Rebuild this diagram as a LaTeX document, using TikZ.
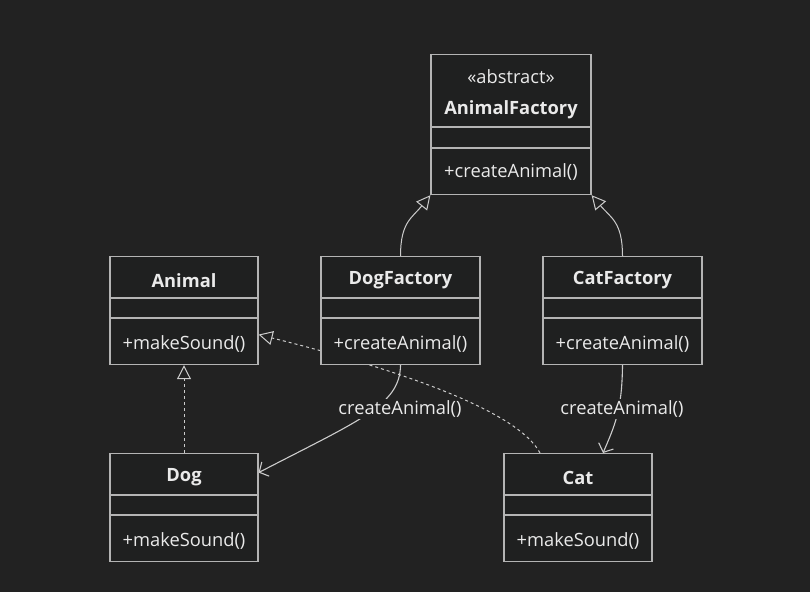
\documentclass[tikz,border=0pt]{standalone}
\usepackage{fontspec}
\setmainfont{Open Sans}
\usetikzlibrary{arrows.meta}

\definecolor{bgcol}{HTML}{222222}
\definecolor{boxfill}{HTML}{1F2020}
\definecolor{boxline}{HTML}{B4B4B4}
\definecolor{inkcol}{HTML}{EAEAEA}
\definecolor{edgecol}{HTML}{CCCCCC}

\pgfdeclarelayer{backdrop}
\pgfdeclarelayer{edges}
\pgfsetlayers{backdrop,edges,main}

\tikzset{
  classbox/.style={draw=boxline, fill=boxfill, line width=1.2pt, minimum height=108pt, inner sep=0pt},
  classline/.style={draw=boxline, line width=1.2pt},
  classname/.style={text=inkcol, font=\bfseries\fontsize{18.3}{21}\selectfont},
  classop/.style={text=inkcol, font=\fontsize{18.3}{21}\selectfont},
  edgelabel/.style={text=inkcol, fill=bgcol, inner sep=1.5pt, font=\fontsize{18.3}{21}\selectfont},
  inherit/.style={draw=edgecol, line width=1pt, -{Triangle[open, length=14pt, width=14pt]}},
  realize/.style={inherit, dash pattern=on 3pt off 3pt},
  depend/.style={draw=edgecol, line width=1.1pt, -{Straight Barb[length=7pt, width=16pt]}},
}

% class box: name, centre x, top y, width, title, operation
\newcommand{\umlclass}[6]{%
  \node[classbox, minimum width=#4, anchor=north] (#1) at (#2,#3) {};
  \draw[classline] ([yshift=-42pt]#1.north west) -- ([yshift=-42pt]#1.north east);
  \draw[classline] ([yshift=-62pt]#1.north west) -- ([yshift=-62pt]#1.north east);
  \node[classname] (#1-name) at ([yshift=-24.5pt]#1.north) {#5};
  \node[classop] (#1-op) at ([yshift=-87.5pt]#1.north) {#6};
}

\begin{document}
\begin{tikzpicture}[x=1pt, y=-1pt]
  \begin{pgfonlayer}{backdrop}
    \fill[bgcol] (0,0) rectangle (810,592);
  \end{pgfonlayer}
  \useasboundingbox (0,0) rectangle (810,592);

  % abstract factory
  \node[classbox, minimum width=160pt, minimum height=140pt, anchor=north] (animalfactory) at (511,54) {};
  \draw[classline] ([yshift=-73pt]animalfactory.north west) -- ([yshift=-73pt]animalfactory.north east);
  \draw[classline] ([yshift=-94pt]animalfactory.north west) -- ([yshift=-94pt]animalfactory.north east);
  \node[classop] (animalfactory-stereo) at ([yshift=-23pt]animalfactory.north) {«abstract»};
  \node[classname] (animalfactory-name) at ([yshift=-55.5pt]animalfactory.north) {AnimalFactory};
  \node[classop] (animalfactory-op) at ([yshift=-117.5pt]animalfactory.north) {+createAnimal()};

  % concrete factories, base and products
  \umlclass{animal}{184}{256}{148pt}{Animal}{+makeSound()}
  \umlclass{dogfactory}{400.5}{256}{159pt}{DogFactory}{+createAnimal()}
  \umlclass{catfactory}{622.5}{256}{159pt}{CatFactory}{+createAnimal()}
  \umlclass{dog}{184}{453}{148pt}{Dog}{+makeSound()}
  \umlclass{cat}{578}{453}{148pt}{Cat}{+makeSound()}

  % edges go underneath the boxes
  \begin{pgfonlayer}{edges}
    \draw[inherit] (dogfactory.north) .. controls (400.5,222) and (412,218) .. (animalfactory.south west);
    \draw[inherit] (catfactory.north) .. controls (622.5,222) and (611,218) .. (animalfactory.south east);
    \draw[realize] (dog.north) -- (animal.south);
    \draw[realize] ([xshift=-38pt]cat.north) .. controls (520,415) and (420,375) .. ([yshift=-24pt]animal.east);
    \draw[depend] (dogfactory.south) .. controls (400,405) and (360,420) .. ([yshift=35pt]dog.east);
    \draw[depend] (catfactory.south) .. controls (622,410) and (615,425) .. ([xshift=25pt]cat.north);
  \end{pgfonlayer}

  \node[edgelabel] (dogfactory-label) at (400,409) {createAnimal()};
  \node[edgelabel] (catfactory-label) at (622,409) {createAnimal()};
\end{tikzpicture}
\end{document}
